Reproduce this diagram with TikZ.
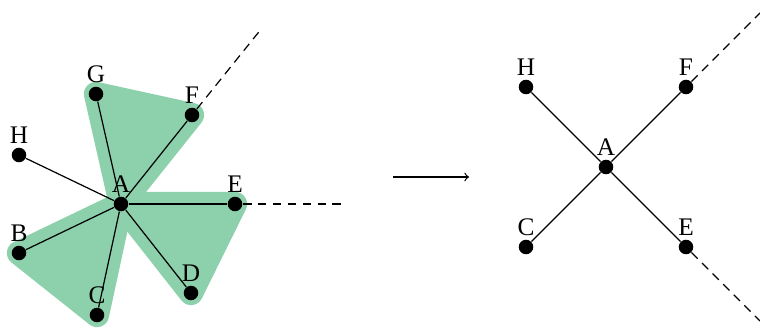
\documentclass[tikz,border=0pt]{standalone}
\usepackage{fontspec}
\setmainfont{Liberation Serif}
\usetikzlibrary{backgrounds}
\definecolor{petal}{RGB}{140,208,172}
\begin{document}
\begin{tikzpicture}[x=0.4545pt,y=-0.4545pt,
  every label/.style={font=\fontsize{11.5}{13}\selectfont},
  dot/.style={circle,fill=black,inner sep=0pt,minimum size=6.6pt,
    label={[label distance=1.4pt,inner sep=0pt]above:#1}},
  edge/.style={line width=0.55pt},
  ray/.style={line width=0.55pt,dash pattern=on 4pt off 2.8pt},
  petalfill/.style={fill=petal,draw=petal,line width=11pt,line join=round}]
\useasboundingbox (0,0) rectangle (760,328);
% left graph
\node[dot=A] (A) at (121,204) {};
\node[dot=E] (E) at (235,204) {};
\node[dot=F] (F) at (192,115) {};
\node[dot=G] (G) at (96,94) {};
\node[dot=H] (H) at (19,155) {};
\node[dot=B] (B) at (19,253) {};
\node[dot=C] (C) at (97,315) {};
\node[dot=D] (D) at (191,293) {};
\coordinate (Fend) at (262,28);
\coordinate (Eend) at (345,204);
\begin{scope}[on background layer]
  \path[petalfill] (A.center) -- (G.center) -- (F.center) -- cycle;
  \path[petalfill] (A.center) -- (E.center) -- (D.center) -- cycle;
  \path[petalfill] (A.center) -- (B.center) -- (C.center) -- cycle;
\end{scope}
\foreach \n in {E,F,G,H,B,C,D} \draw[edge] (A) -- (\n);
\draw[ray] (F) -- (Fend);
\draw[ray] (E) -- (Eend);
% arrow
\coordinate (arrS) at (393,177);
\coordinate (arrT) at (469,177);
\draw[edge,->] (arrS) -- (arrT);
% right graph
\node[dot=A] (A2) at (606,167) {};
\node[dot=H] (H2) at (526,87) {};
\node[dot=F] (F2) at (686,87) {};
\node[dot=C] (C2) at (526,247) {};
\node[dot=E] (E2) at (686,247) {};
\foreach \n in {H2,F2,C2,E2} \draw[edge] (A2) -- (\n);
\coordinate (F2end) at (760,13);
\coordinate (E2end) at (760,321);
\draw[ray] (F2) -- (F2end);
\draw[ray] (E2) -- (E2end);
\end{tikzpicture}
\end{document}
